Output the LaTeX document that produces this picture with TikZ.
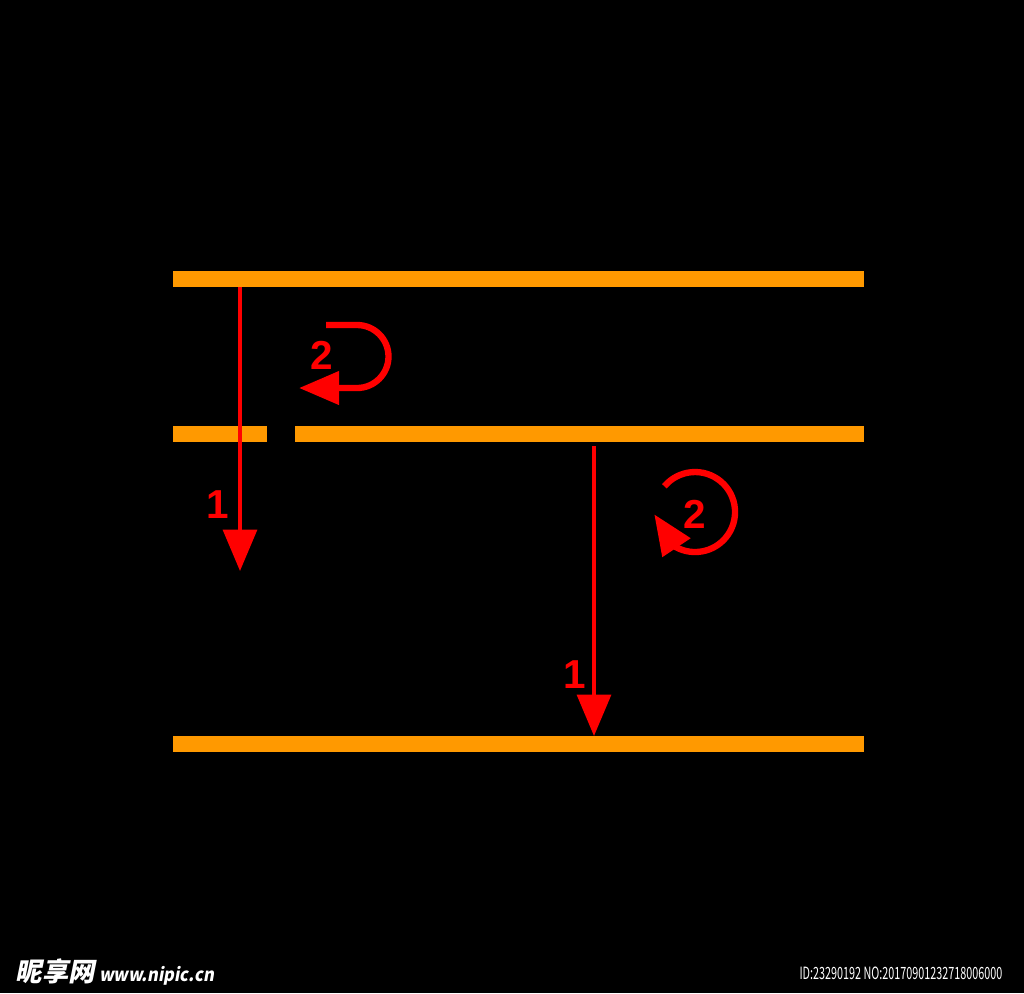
\documentclass[tikz,border=0pt]{standalone}
\usepackage{fontspec}
\usetikzlibrary{arrows.meta}
\setsansfont{Liberation Sans}
\newfontfamily\cjk{Noto Sans CJK SC}
\newfontfamily\cjkslant[FakeSlant=0.2]{Noto Sans CJK SC}
\definecolor{layerorange}{HTML}{FF9900}
\definecolor{jumpred}{HTML}{FF0000}

\begin{document}
\begin{tikzpicture}[x=0.01cm, y=-0.01cm,
  layer/.style={draw=layerorange, line width=4.6pt},
  jump/.style={draw=jumpred, line width=1.2pt, -{Triangle[length=11.8pt,width=9.6pt]}},
  curl/.style={draw=jumpred, line width=1.8pt, -{Triangle[length=11.4pt,width=9.2pt]}},
  lbl/.style={text=jumpred, font=\sffamily\bfseries\fontsize{11.5}{12}\selectfont, inner sep=0pt}]
\fill[black] (0,0) rectangle (1024,993);
% levels
\draw[layer] (173,279) -- (864,279);
\draw[layer] (173,434) -- (267,434);
\draw[layer] (295,434) -- (864,434);
\draw[layer] (173,744) -- (864,744);
% transitions 1
\coordinate (upA) at (240,287);
\coordinate (downA) at (240,571);
\coordinate (upB) at (594,446);
\coordinate (downB) at (594,736);
\draw[jump] (upA) -- (downA);
\draw[jump] (upB) -- (downB);
\node[lbl] (oneA) at (218,505) {1};
\node[lbl] (oneB) at (575,675) {1};
% transitions 2
\coordinate (curlA) at (326,325);
\draw[curl] (curlA) -- ++(31,0) arc[start angle=-90, end angle=90, radius=31.5] -- ++(-58,0);
\node[lbl] (twoA) at (322,355) {2};
\coordinate (curlB) at (664.4,486.3);
\draw[curl] (curlB) arc[start angle=-140, end angle=118, radius=40] -- ++(-22,-33);
\node[lbl] (twoB) at (695,514) {2};
% watermark
\node[text=white, anchor=base west, inner sep=0pt, font=\cjkslant\bfseries\fontsize{7.5}{8}\selectfont] (site) at (15,981) {昵享网\,\fontsize{5.2}{6}\selectfont\scalebox{0.9}[1]{www.nipic.cn}};
\node[text=white, anchor=east, inner sep=0pt, font=\cjk\fontsize{4.8}{5}\selectfont] (serial) at (1003,973) {\scalebox{0.64}[1]{ID:23290192 NO:20170901232718006000}};
\end{tikzpicture}
\end{document}
